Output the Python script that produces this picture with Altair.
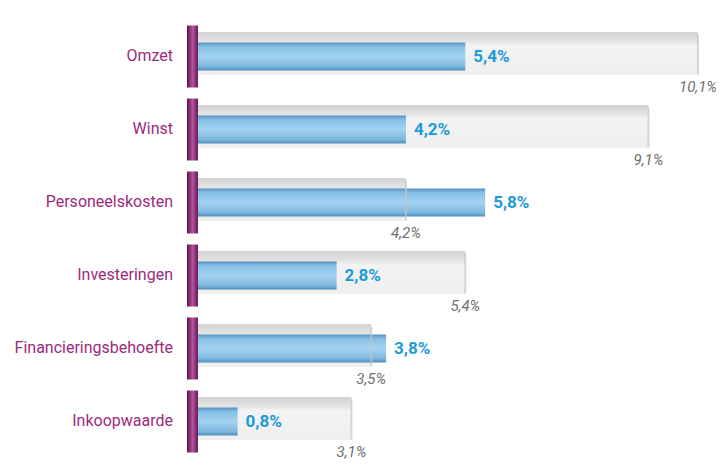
import altair as alt
import pandas as pd

categories = ["Omzet", "Winst", "Personeelskosten", "Investeringen",
              "Financieringsbehoefte", "Inkoopwaarde"]
blue_values = [5.4, 4.2, 5.8, 2.8, 3.8, 0.8]
grey_values = [10.1, 9.1, 4.2, 5.4, 3.5, 3.1]

df = pd.DataFrame({"cat": categories, "blue": blue_values, "grey": grey_values})

FONT = "Roboto, Liberation Sans, sans-serif"

ysc = alt.Scale(domain=categories, paddingInner=0, paddingOuter=0)
Y = alt.Y("cat:N", scale=ysc, axis=None, sort=categories)
xsc = alt.Scale(domain=[0, 10.1], nice=False, zero=True)

base = alt.Chart(df).transform_calculate(
    blab="replace(format(datum.blue, '.1f'), '.', ',') + '%'",
    glab="replace(format(datum.grey, '.1f'), '.', ',') + '%'",
)

grey_grad = alt.Gradient(
    gradient="linear", x1=0, x2=0, y1=0, y2=1,
    stops=[alt.GradientStop(offset=0, color="#d2d2d2"),
           alt.GradientStop(offset=0.22, color="#e4e4e4"),
           alt.GradientStop(offset=0.32, color="#f3f3f3"),
           alt.GradientStop(offset=1, color="#efefef")])

blue_grad = alt.Gradient(
    gradient="linear", x1=0, x2=0, y1=0, y2=1,
    stops=[alt.GradientStop(offset=0, color="#5592c0"),
           alt.GradientStop(offset=0.15, color="#86bfe5"),
           alt.GradientStop(offset=0.5, color="#a3d3f2"),
           alt.GradientStop(offset=0.85, color="#7fb8df"),
           alt.GradientStop(offset=1, color="#4f8ebc")])

cap_grad = alt.Gradient(
    gradient="linear", x1=0, x2=1, y1=0, y2=0,
    stops=[alt.GradientStop(offset=0, color="#5a1049"),
           alt.GradientStop(offset=0.5, color="#b2559d"),
           alt.GradientStop(offset=1, color="#6a1859")])

grey_bar = base.mark_bar(size=43, yOffset=-3, color=grey_grad).encode(
    x=alt.X("grey:Q", scale=xsc, axis=None), y=Y)

blue_bar = base.mark_bar(size=28, color=blue_grad).encode(
    x=alt.X("blue:Q", scale=xsc, axis=None), y=Y)

grey_end = base.mark_tick(size=40, thickness=2, yOffset=-2, color="#c6c6c6",
                          orient="vertical").encode(
    x=alt.X("grey:Q", scale=xsc, axis=None), y=Y)

cap = base.mark_bar(size=62, color=cap_grad).encode(
    x=alt.value(-11), x2=alt.value(0), y=Y)

blue_text = base.mark_text(align="left", baseline="middle", dx=8,
                           font=FONT, fontWeight="bold", fontSize=17,
                           color="#1b9bd8").encode(
    x=alt.X("blue:Q", scale=xsc, axis=None), y=Y, text="blab:N")

grey_text = base.mark_text(align="center", baseline="middle", dx=0, dy=30,
                           font=FONT, fontStyle="italic", fontSize=15,
                           color="#6e6e6e").encode(
    x=alt.X("grey:Q", scale=xsc, axis=None), y=Y, text="glab:N")

cat_text = base.mark_text(align="right", baseline="middle", dy=-1,
                          font=FONT, fontSize=16, color="#9c2a7e").encode(
    x=alt.value(-25), y=Y, text="cat:N")

chart = alt.layer(grey_bar, blue_bar, grey_end, cap, blue_text, grey_text,
                  cat_text).properties(
    width=500, height=438,
    padding={"left": 190, "top": 12, "right": 18, "bottom": 2},
    autosize="none",
    background="white",
).configure_view(stroke=None)

chart.save("out.html", embed_options={"renderer": "svg", "actions": False})
